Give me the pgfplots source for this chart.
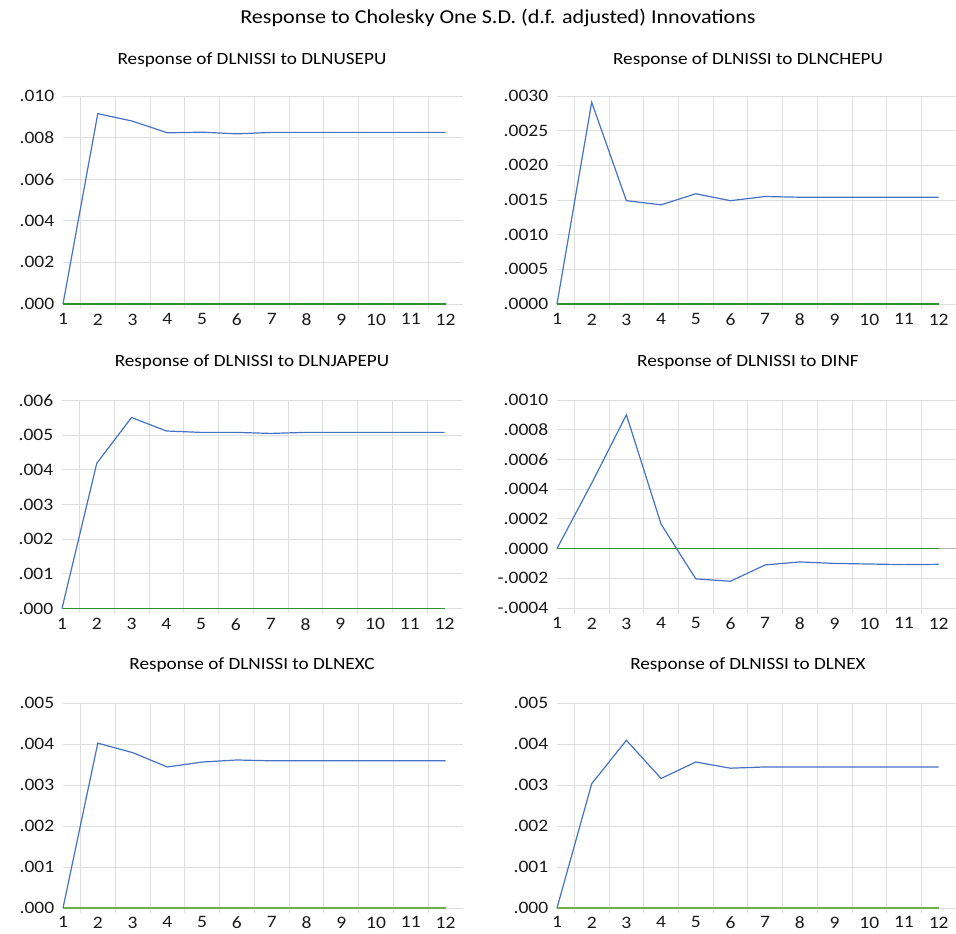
\documentclass[border=0pt]{standalone}
\usepackage{pgfplots}
\pgfplotsset{compat=1.18}
\usepackage{fontspec}
\setmainfont{Carlito}[FakeStretch=1.12]
\definecolor{irfblue}{RGB}{68,114,196}
\definecolor{zgreen}{RGB}{46,146,46}
\definecolor{zolive}{RGB}{112,173,71}
\definecolor{gridgray}{RGB}{222,222,222}
\pgfplotsset{
  irf/.style={
    scale only axis,
    width=400bp, height=208bp,
    xmin=1, xmax=12.5,
    axis line style={draw=none},
    major tick style={draw=none},
    minor x tick style={draw=gridgray, line width=0.8bp},
    minor tick length=5bp,
    tick align=outside,
    xtick pos=lower, ytick pos=left,
    scaled y ticks=false,
    xtick={1,2,3,4,5,6,7,8,9,10,11,12},
    xticklabels={1,2,3,4,5,6,7,8,9,10,11,12},
    minor xtick={1.5,2.5,3.5,4.5,5.5,6.5,7.5,8.5,9.5,10.5,11.5},
    xminorgrids=true, ymajorgrids=true, xmajorgrids=false,
    grid style={draw=gridgray, line width=0.8bp},
    minor grid style={draw=gridgray, line width=0.8bp},
    /pgf/number format/assume math mode=true,
    tick label style={font=\fontsize{17.5}{19}\selectfont, text=black!90},
    yticklabel style={xshift=-1bp},
    xticklabel style={yshift=-2bp},
    clip=false,
  },
  irfline/.style={irfblue, line width=1.2bp},
  zeroline/.style={zgreen, line width=1.4bp},
}
\begin{document}
\begin{tikzpicture}
\useasboundingbox (0,0) rectangle (956bp,934bp);
\node[font=\fontsize{19.8}{22}\selectfont] at (498bp,916bp) {Response to Cholesky One S.D. (d.f. adjusted) Innovations};
\node[font=\fontsize{17.2}{19}\selectfont] at (252bp,874bp) {Response of DLNISSI to DLNUSEPU};
\node[font=\fontsize{17.2}{19}\selectfont] at (748bp,874bp) {Response of DLNISSI to DLNCHEPU};
\node[font=\fontsize{17.2}{19}\selectfont] at (252bp,572bp) {Response of DLNISSI to DLNJAPEPU};
\node[font=\fontsize{17.2}{19}\selectfont] at (748bp,572bp) {Response of DLNISSI to DINF};
\node[font=\fontsize{17.2}{19}\selectfont] at (252bp,269bp) {Response of DLNISSI to DLNEXC};
\node[font=\fontsize{17.2}{19}\selectfont] at (748bp,269bp) {Response of DLNISSI to DLNEX};

% Top left
\begin{axis}[irf, at={(63bp,630bp)}, anchor=south west,
  ymin=0, ymax=0.010,
  ytick={0,0.002,0.004,0.006,0.008,0.010},
  yticklabels={.000,.002,.004,.006,.008,.010}]
\addplot[zeroline] coordinates {(1,0) (12,0)};
\addplot[irfline] coordinates {(1,0) (2,0.00915) (3,0.00879) (4,0.00823) (5,0.00826) (6,0.00818) (7,0.00825) (8,0.00825) (9,0.00825) (10,0.00825) (11,0.00825) (12,0.00825)};
\end{axis}

% Top right
\begin{axis}[irf, at={(557bp,630bp)}, anchor=south west, width=399bp,
  ymin=0, ymax=0.0030,
  ytick={0,0.0005,0.0010,0.0015,0.0020,0.0025,0.0030},
  yticklabels={.0000,.0005,.0010,.0015,.0020,.0025,.0030}]
\addplot[zeroline] coordinates {(1,0) (12,0)};
\addplot[irfline] coordinates {(1,0) (2,0.00291) (3,0.00149) (4,0.00143) (5,0.00159) (6,0.00149) (7,0.00155) (8,0.00154) (9,0.00154) (10,0.00154) (11,0.00154) (12,0.00154)};
\end{axis}

% Middle left
\begin{axis}[irf, at={(62bp,325.5bp)}, anchor=south west,
  ymin=0, ymax=0.006,
  ytick={0,0.001,0.002,0.003,0.004,0.005,0.006},
  yticklabels={.000,.001,.002,.003,.004,.005,.006}]
\addplot[zeroline] coordinates {(1,0) (12,0)};
\addplot[irfline] coordinates {(1,0) (2,0.00419) (3,0.00551) (4,0.00512) (5,0.00508) (6,0.00508) (7,0.00505) (8,0.00508) (9,0.00508) (10,0.00508) (11,0.00508) (12,0.00508)};
\end{axis}

% Middle right
\begin{axis}[irf, at={(557bp,326bp)}, anchor=south west, width=399bp,
  ymin=-0.0004, ymax=0.0010,
  ytick={-0.0004,-0.0002,0,0.0002,0.0004,0.0006,0.0008,0.0010},
  yticklabels={-.0004,-.0002,.0000,.0002,.0004,.0006,.0008,.0010}]
\addplot[draw=black!30, line width=0.8bp] coordinates {(1,0) (12.5,0)};
\addplot[zeroline] coordinates {(1,0) (12,0)};
\addplot[irfline] coordinates {(1,0) (2,0.00044) (3,0.00090) (4,0.000164) (5,-0.000204) (6,-0.00022) (7,-0.00011) (8,-0.00009) (9,-0.000100) (10,-0.000104) (11,-0.000108) (12,-0.000106)};
\end{axis}

% Bottom left
\begin{axis}[irf, at={(63bp,26bp)}, anchor=south west, height=205bp,
  xticklabel style={yshift=1bp},
  ymin=0, ymax=0.005,
  ytick={0,0.001,0.002,0.003,0.004,0.005},
  yticklabels={.000,.001,.002,.003,.004,.005}]
\addplot[zolive, line width=1.6bp] coordinates {(1,0) (12,0)};
\addplot[irfline] coordinates {(1,0) (2,0.00402) (3,0.00379) (4,0.00344) (5,0.00356) (6,0.00361) (7,0.00359) (8,0.00359) (9,0.00359) (10,0.00359) (11,0.00359) (12,0.00359)};
\end{axis}

% Bottom right
\begin{axis}[irf, at={(557bp,26bp)}, anchor=south west, height=205bp, width=399bp,
  xticklabel style={yshift=1bp},
  ymin=0, ymax=0.005,
  ytick={0,0.001,0.002,0.003,0.004,0.005},
  yticklabels={.000,.001,.002,.003,.004,.005}]
\addplot[zolive, line width=1.6bp] coordinates {(1,0) (12,0)};
\addplot[irfline] coordinates {(1,0) (2,0.00303) (3,0.00409) (4,0.00316) (5,0.00356) (6,0.00341) (7,0.00344) (8,0.00344) (9,0.00344) (10,0.00344) (11,0.00344) (12,0.00344)};
\end{axis}
\end{tikzpicture}
\end{document}
